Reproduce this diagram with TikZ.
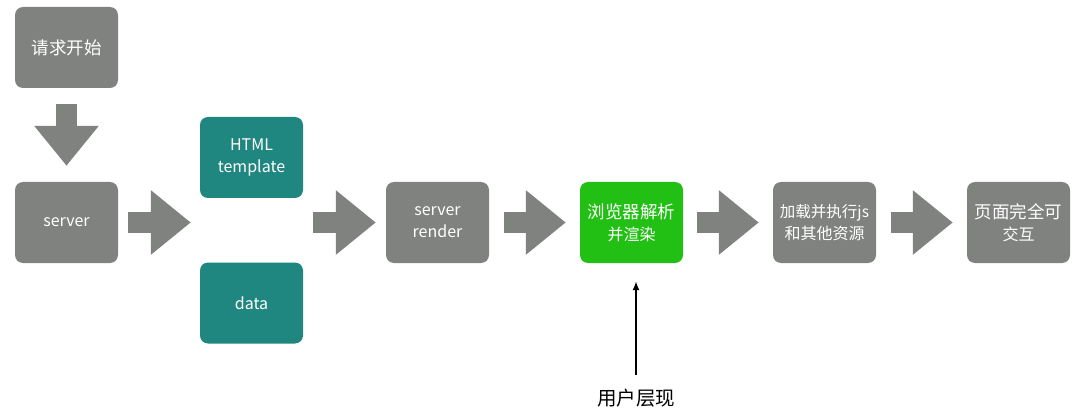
\documentclass[tikz,border=0pt]{standalone}
\usepackage{fontspec}
\setmainfont{Noto Sans CJK SC}
\usepackage{tikz}
\usetikzlibrary{positioning,calc,arrows.meta}

\definecolor{boxgray}{RGB}{128,130,128}
\definecolor{boxteal}{RGB}{31,134,128}
\definecolor{boxgreen}{RGB}{34,192,20}

\tikzset{
  stepbox/.style={fill=boxgray, rounded corners=8pt, minimum width=103pt, minimum height=81pt,
    inner sep=0pt, text=white, align=center, font=\fontsize{16}{22}\selectfont},
  inputbox/.style={stepbox, fill=boxteal},
  showbox/.style={stepbox, fill=boxgreen},
  blockarrow/.style={draw=boxgray, line width=21pt,
    -{Triangle[length=40pt,width=62pt]}, boxgray},
}

\begin{document}
\begin{tikzpicture}[x=1pt,y=1pt,yscale=-1,xscale=1]
\useasboundingbox (0,0) rectangle (1080,409);

% Boxes
\node [stepbox] (start) at (66.5,47.5) {\fontsize{17.5}{22}\selectfont 请求开始};
\node [stepbox] (server) at (66.5,222.5) {server};
\node [inputbox] (tpl) at (251.5,157.5) {HTML\\template};
\node [inputbox] (data) at (251.5,303) {data};
\node [stepbox] (render) at (437.5,222.5) {server\\render};
\node [showbox] (browser) at (631.5,222.5) {\fontsize{17.5}{25}\selectfont 浏览器解析\\并渲染};
\node [stepbox] (load) at (824.5,222.5) {\fontsize{15.5}{25}\selectfont 加载并执行js\\和其他资源};
\node [stepbox] (done) at (1018.5,222.5) {\fontsize{17.5}{25}\selectfont 页面完全可\\交互};

% Text Node
\node [font=\fontsize{19.5}{22}\selectfont] (user) at (636,398) {用户层现};

% Block arrows
\draw [blockarrow] ($(start.south)+(0,16)$) -- ($(server.north)+(0,-16)$);
\draw [blockarrow] ($(server.east)+(10,0)$) -- ($(tpl.west |- server.east)+(-9,0)$);
\draw [blockarrow] ($(tpl.east |- render.west)+(10,0)$) -- ($(render.west)+(-10,0)$);
\draw [blockarrow] ($(render.east)+(15,0)$) -- ($(browser.west)+(-14,0)$);
\draw [blockarrow] ($(browser.east)+(14,0)$) -- ($(load.west)+(-14,0)$);
\draw [blockarrow] ($(load.east)+(15,0)$) -- ($(done.west)+(-14,0)$);

% User arrow
\coordinate (ufoot) at (636,375);
\coordinate (utip) at ($(browser.south)+(0,18)$);
\draw [line width=1.5pt, -{Latex[length=9pt,width=7pt]}] (ufoot) -- (ufoot |- utip);
\end{tikzpicture}
\end{document}
